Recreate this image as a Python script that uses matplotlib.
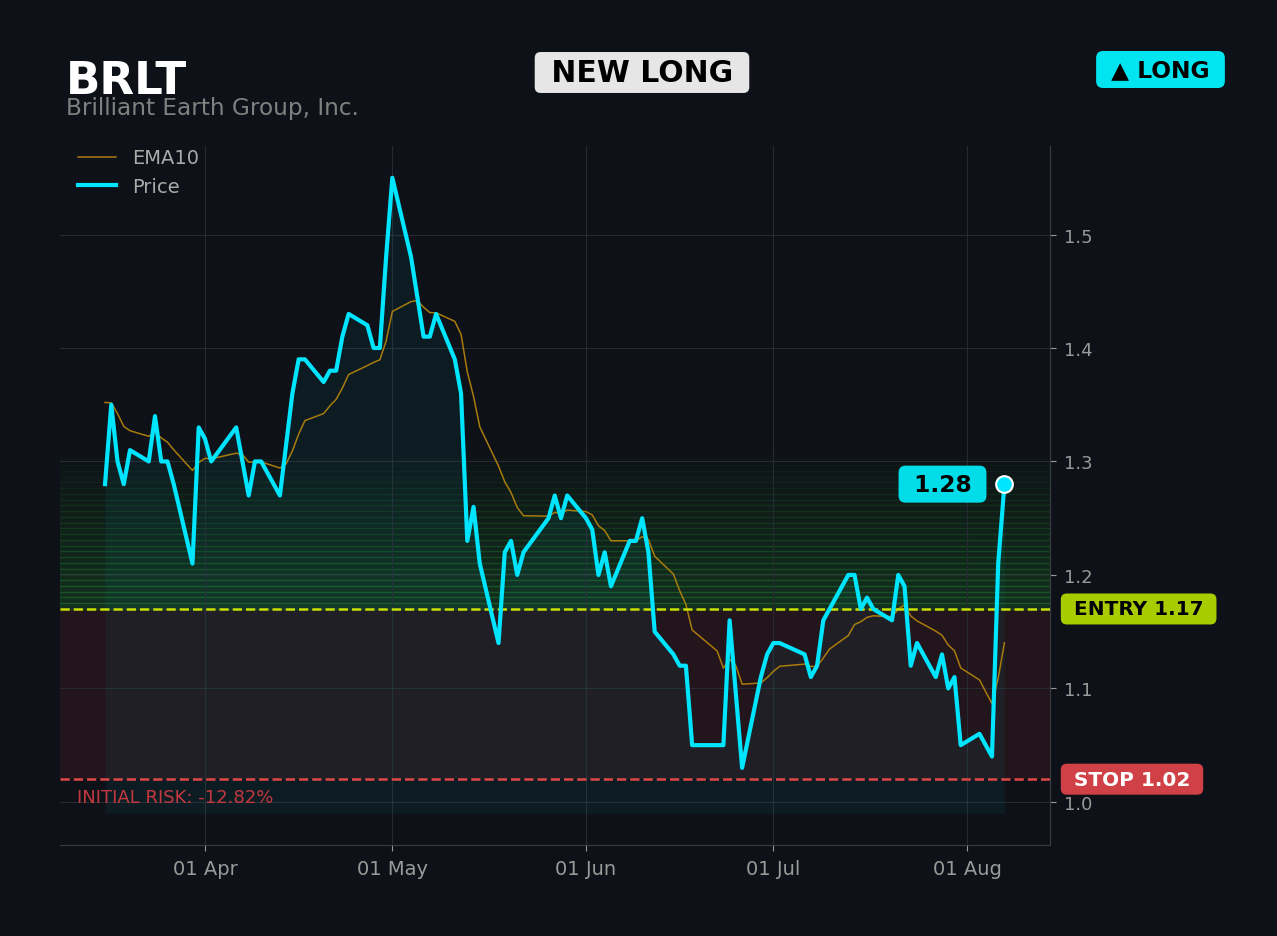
import matplotlib
matplotlib.use("Agg")
import matplotlib.pyplot as plt
import matplotlib.dates as mdates
import matplotlib.transforms as mtransforms
import pandas as pd

# ---------------- data ----------------
ticker = "BRLT"
company = "Brilliant Earth Group, Inc."
signal_label = "NEW LONG"
direction_label = "▲ LONG"
entry_price = 1.17
stop_price = 1.02
last_label = "1.28"
entry_label = "ENTRY 1.17"
stop_label = "STOP 1.02"
initial_risk = "INITIAL RISK: -12.82%"
ytick_values = [1.0, 1.1, 1.2, 1.3, 1.4, 1.5]

holidays = ["2026-04-03", "2026-05-25", "2026-06-19", "2026-07-03"]
dates = pd.bdate_range("2026-03-16", "2026-08-07")
dates = dates[~dates.isin(pd.to_datetime(holidays))]

price = [
    1.28, 1.35, 1.30, 1.28, 1.31,
    1.30, 1.34, 1.30, 1.30, 1.28,
    1.21, 1.33, 1.32, 1.30,
    1.33, 1.30, 1.27, 1.30, 1.30,
    1.27, 1.315, 1.36, 1.39, 1.39,
    1.37, 1.38, 1.38, 1.41, 1.43,
    1.42, 1.40, 1.40, 1.48, 1.55,
    1.48, 1.445, 1.41, 1.41, 1.43,
    1.39, 1.36, 1.23, 1.26, 1.21,
    1.14, 1.22, 1.23, 1.20, 1.22,
    1.25, 1.27, 1.25, 1.27,
    1.25, 1.24, 1.20, 1.22, 1.19,
    1.23, 1.23, 1.25, 1.22, 1.15,
    1.13, 1.12, 1.12, 1.05,
    1.05, 1.05, 1.16, 1.095, 1.03,
    1.11, 1.13, 1.14, 1.14,
    1.13, 1.11, 1.12, 1.16, 1.17,
    1.20, 1.20, 1.17, 1.18, 1.17,
    1.16, 1.20, 1.19, 1.12, 1.14,
    1.11, 1.13, 1.10, 1.11, 1.05,
    1.06, 1.05, 1.04, 1.21, 1.28,
]

ema10 = [
    1.3520, 1.3516, 1.3422, 1.3309, 1.3271, 1.3222, 1.3254, 1.3208, 1.3170, 1.3103,
    1.2921, 1.2990, 1.3028, 1.3023, 1.3073, 1.3060, 1.2994, 1.2995, 1.2996, 1.2942,
    1.2980, 1.3093, 1.3240, 1.3360, 1.3422, 1.3490, 1.3547, 1.3647, 1.3766, 1.3845,
    1.3873, 1.3896, 1.4060, 1.4322, 1.4409, 1.4417, 1.4359, 1.4312, 1.4310, 1.4235,
    1.4120, 1.3789, 1.3573, 1.3305, 1.2959, 1.2821, 1.2726, 1.2594, 1.2522, 1.2518,
    1.2551, 1.2542, 1.2571, 1.2558, 1.2529, 1.2433, 1.2391, 1.2301, 1.2301, 1.2301,
    1.2337, 1.2312, 1.2165, 1.2007, 1.1861, 1.1740, 1.1515, 1.1330, 1.1179, 1.1256,
    1.1200, 1.1037, 1.1048, 1.1094, 1.1150, 1.1195, 1.1214, 1.1193, 1.1195, 1.1268,
    1.1347, 1.1466, 1.1563, 1.1588, 1.1626, 1.1640, 1.1632, 1.1699, 1.1736, 1.1638,
    1.1595, 1.1505, 1.1468, 1.1383, 1.1331, 1.1180, 1.1075, 1.0970, 1.0867, 1.1091,
    1.1402,
]

# ---------------- style ----------------
BG = "#0e1117"
CYAN = "#00e5ff"
TXT = "#9a9a9a"

fig = plt.figure(figsize=(12.77, 9.37), dpi=100, facecolor=BG)
ax = fig.add_axes([60 / 1277, 1 - 846 / 937, 990 / 1277, 699 / 937])
ax.set_facecolor(BG)

blend = mtransforms.blended_transform_factory(ax.transAxes, ax.transData)

# green target zone (striped gradient)
n_zone = 28
zone_top = 1.312
h = (zone_top - entry_price) / n_zone
for i in range(n_zone):
    lo = entry_price + i * h
    ax.axhspan(lo, lo + h, color="#2ecc40", alpha=0.16 * (1 - i / n_zone), zorder=0.5)

# risk zone
ax.axhspan(stop_price, entry_price, color="#ef4444", alpha=0.09, lw=0, zorder=0.4)

# area under price
ax.fill_between(dates, price, 0.99, color=CYAN, alpha=0.05, lw=0, zorder=1)

ax.plot(dates, ema10, color="#b8860b", lw=1.1, alpha=0.9, label="EMA10", zorder=3)
ax.plot(dates, price, color=CYAN, lw=3, label="Price", zorder=5)
ax.plot(dates[-1], price[-1], "o", ms=12, color=CYAN, mec="white", mew=1.5, zorder=6)

ax.axhline(entry_price, color="#c8e000", ls="--", lw=1.8, zorder=4)
ax.axhline(stop_price, color="#e04848", ls="--", lw=1.8, zorder=4)

ax.set_ylim(0.962, 1.578)
ax.set_xlim(pd.Timestamp("2026-03-08 19:00"), pd.Timestamp("2026-08-14 07:00"))

ax.grid(True, color="#262a31", lw=0.8)
ax.set_axisbelow(True)
for s in ["left", "top"]:
    ax.spines[s].set_visible(False)
for s in ["right", "bottom"]:
    ax.spines[s].set_color("#3a3d44")
ax.yaxis.tick_right()
ax.set_yticks(ytick_values)
ax.yaxis.set_major_formatter(plt.FormatStrFormatter("%.1f"))
ax.xaxis.set_major_locator(mdates.MonthLocator())
ax.xaxis.set_major_formatter(mdates.DateFormatter("%d %b"))
ax.tick_params(axis="y", colors=TXT, labelsize=13, length=4, pad=6)
ax.tick_params(axis="x", colors=TXT, labelsize=14, length=4, pad=6)

ax.legend(loc="upper left", bbox_to_anchor=(0.0, 1.0215), frameon=False,
          fontsize=14, labelcolor="#aaaaaa")

# labels
ax.text(1.017, entry_price, " " + entry_label + " ", transform=blend, ha="left", va="center",
        fontsize=14.4, weight="bold", color="black",
        bbox=dict(boxstyle="round,pad=0.3", fc="#a8cc00", ec="none"), clip_on=False)
ax.text(1.017, stop_price, " " + stop_label + " ", transform=blend, ha="left", va="center",
        fontsize=14.4, weight="bold", color="white",
        bbox=dict(boxstyle="round,pad=0.3", fc="#cf4146", ec="none"), clip_on=False)
ax.annotate(" " + last_label + " ", xy=(dates[-1], price[-1]), xytext=(-44.6, 0),
            textcoords="offset points", ha="center", va="center",
            fontsize=16.8, weight="bold", color="black",
            bbox=dict(boxstyle="round,pad=0.3", fc="#00dde9", ec="none"), zorder=7)
ax.text(0.017, 1.0045, initial_risk, transform=blend, ha="left", va="center",
        fontsize=13, color="#c4393f")

fig.text(66 / 1277, 1 - 94.5 / 937, ticker, fontsize=32.5, weight="bold", color="white",
         va="baseline")
fig.text(66 / 1277, 1 - 115.5 / 937, company, fontsize=16.7, color="#808080", va="baseline")
fig.text(642 / 1277, 1 - 73.5 / 937, " " + signal_label + " ", ha="center", va="center",
         fontsize=21.5, weight="bold", color="black",
         bbox=dict(boxstyle="round,pad=0.2", fc="#e6e6e6", ec="none"))
fig.text(1160.5 / 1277, 1 - 70.5 / 937, " " + direction_label + " ", ha="center", va="center",
         fontsize=16.8, weight="bold", color="black",
         bbox=dict(boxstyle="round,pad=0.3", fc="#00e5f0", ec="none"))

fig.savefig("out.png", dpi=100, facecolor=BG)
